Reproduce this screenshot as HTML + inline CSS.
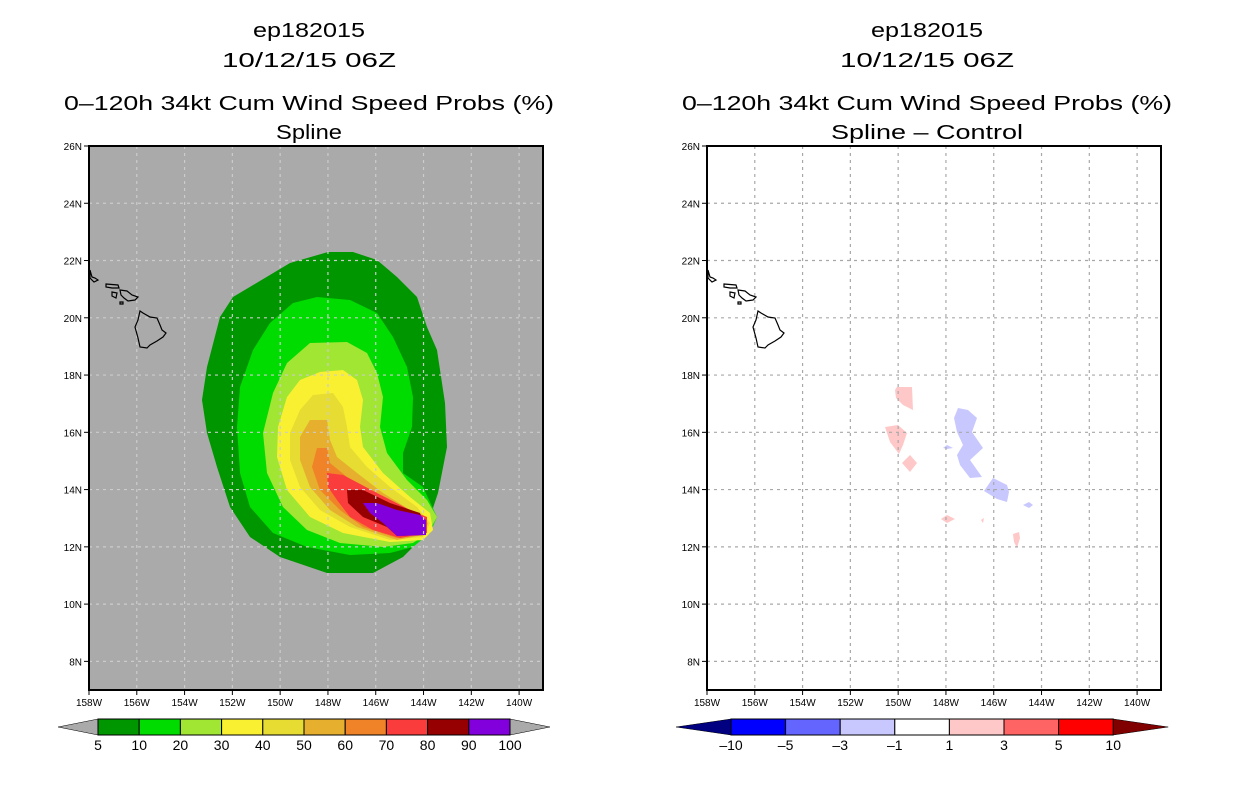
<!DOCTYPE html>
<html><head><meta charset="utf-8"><style>
body{margin:0;background:#fff;width:1236px;height:800px;overflow:hidden}
svg{display:block;font-family:"Liberation Sans",sans-serif}
</style></head><body>
<svg id="s" width="1236" height="800"></svg>
<script>
const lonTicks=[-158,-156,-154,-152,-150,-148,-146,-144,-142,-140];
const latTicks=[8,10,12,14,16,18,20,22,24,26];
const probLevels=["5","10","20","30","40","50","60","70","80","90","100"];
const probColors=["#009600","#00dc00","#a0e632","#faf032","#e6dc32","#e6af2d","#f08228","#fa3c3c","#960000","#8200dc"];
const diffLevels=["-10","-5","-3","-1","1","3","5","10"];
const diffColors=["#0000ff","#6464ff","#c8c8ff","#ffffff","#ffc8c8","#ff6464","#ff0000"];
const probPolysPx=[
[[328,252],[353,252],[377,260],[397,277],[417,297],[427,327],[437,350],[445,403],[447,447],[438,493],[430,517],[420,540],[403,557],[373,573],[327,573],[280,557],[250,537],[230,507],[217,467],[207,433],[202,400],[207,367],[220,317],[233,297],[290,263]],
[[317,297],[350,300],[377,313],[393,337],[407,367],[413,397],[412,427],[403,453],[403,473],[423,487],[437,517],[430,533],[413,547],[390,553],[350,555],[307,547],[273,533],[250,507],[240,473],[237,427],[240,387],[253,350],[270,323],[293,303]],
[[310,343],[347,342],[367,353],[377,373],[383,397],[380,427],[387,453],[407,480],[427,500],[437,517],[428,533],[413,543],[383,547],[340,543],[307,530],[283,507],[267,473],[263,433],[273,393],[287,363]],
[[320,372],[343,370],[357,380],[363,400],[360,427],[363,447],[383,473],[410,497],[430,513],[433,530],[423,540],[390,542],[343,533],[310,517],[287,490],[277,457],[278,427],[287,397],[300,380]],
[[313,395],[333,393],[343,407],[347,427],[350,447],[367,467],[390,487],[417,507],[430,523],[423,537],[390,540],[350,527],[320,510],[300,487],[290,460],[290,433],[300,410]],
[[310,420],[327,420],[330,440],[337,457],[357,473],[383,493],[410,510],[428,523],[423,535],[397,540],[357,527],[330,510],[310,487],[300,460],[300,437]],
[[317,448],[327,448],[330,463],[347,477],[377,493],[407,510],[427,520],[423,535],[397,538],[363,527],[340,510],[320,490],[312,467]],
[[327,473],[343,475],[377,493],[410,510],[427,517],[427,533],[400,538],[373,530],[350,517],[337,500],[328,487]],
[[347,490],[363,490],[390,503],[420,513],[425,527],[423,535],[397,536],[387,527],[363,517],[348,503]],
[[363,503],[377,503],[397,510],[420,515],[426,520],[426,535],[397,536],[383,523],[370,513]]];
const diffPolysPx=[
["#ffc8c8",[[897,387],[912,387],[913,410],[903,405],[896,398],[895,390]]],
["#ffc8c8",[[885,427],[898,425],[907,433],[903,445],[899,454],[890,442]]],
["#ffc8c8",[[910,455],[917,463],[910,472],[902,463]]],
["#ffc8c8",[[941,519],[947,515],[955,519],[947,523]]],
["#ffc8c8",[[981,520],[984,518],[983,523]]],
["#ffc8c8",[[1013,534],[1019,532],[1020,538],[1017,548],[1014,542]]],
["#c8c8ff",[[958,408],[968,410],[977,418],[972,432],[983,448],[970,460],[982,477],[970,478],[960,465],[957,455],[963,445],[957,432],[954,418]]],
["#c8c8ff",[[943,448],[947,445],[953,448],[947,449]]],
["#c8c8ff",[[993,478],[1007,485],[1009,492],[1007,502],[997,499],[984,491]]],
["#c8c8ff",[[1023,505],[1029,502],[1033,505],[1029,508]]]];
const islandsPx=[
[[140,311],[143,313],[150,317],[157,318],[160,325],[162,330],[166,333],[163,337],[157,341],[150,345],[147,348],[140,347],[138,338],[135,327],[138,320]],
[[120,290],[127,291],[132,295],[138,297],[135,300],[128,301],[124,298],[121,295]],
[[106,284],[118,285],[119,288],[112,288],[106,287]],
[[112,292],[117,293],[116,298],[112,296]],
[[120,302],[123,302],[123,304],[120,304]],
[[90,270],[92,277],[95,278],[98,280],[94,282],[90,278]]];

const NS="http://www.w3.org/2000/svg";
const svg=document.getElementById('s');
function el(t,a,p){const e=document.createElementNS(NS,t);for(const k in a)e.setAttribute(k,a[k]);(p||svg).appendChild(e);return e;}
const LON0=-158.0,LON1=-139.0,LAT0=7.0,LAT1=26.0,W=454,H=544,TOP=146;
function px2ll(p,ox){return [LON0+(p[0]-ox)/W*(LON1-LON0), LAT1-(p[1]-TOP)/H*(LAT1-LAT0)];}
function xs(lon,ox){return ox+(lon-LON0)/(LON1-LON0)*W;}
function ys(lat){return TOP+(LAT1-lat)/(LAT1-LAT0)*H;}
const probPolys=probPolysPx.map(p=>p.map(q=>px2ll(q,89)));
const diffPolys=diffPolysPx.map(d=>[d[0],d[1].map(q=>px2ll(q,707))]);
const islands=islandsPx.map(p=>p.map(q=>px2ll(q,89)));
function pts(poly,ox){return poly.map(q=>xs(q[0],ox).toFixed(1)+','+ys(q[1]).toFixed(1)).join(' ');}

function text(x,y,s,size,name,anchor,len){const a={x:x,y:y,'font-size':size,'text-anchor':anchor||'middle','fill':'#000'};if(len){a.textLength=len;a.lengthAdjust='spacingAndGlyphs';}const t=el('text',a);t.textContent=s;return t;}

function panel(ox,cx,sub,subLen,bg,gridCol,isLeft){
  const g=el('g',{});
  
  
  text(cx,37,'ep182015',20,'title-storm-id','middle',112);
  text(cx,67,'10/12/15 06Z',20,'title-date','middle',174);
  text(cx,110,'0\u2013120h 34kt Cum Wind Speed Probs (%)',20,'title-product','middle',490);
  text(cx,139,sub,20,'subtitle','middle',subLen);
  el('rect',{x:ox,y:TOP,width:W,height:H,fill:bg},g);
  if(isLeft){probPolys.forEach((p,i)=>{const e=el('polygon',{points:pts(p,ox),fill:probColors[i]},g);});}
  else{diffPolys.forEach(d=>{const e=el('polygon',{points:pts(d[1],ox),fill:d[0]},g);});}
  lonTicks.slice(1).forEach(l=>{const x=xs(l,ox);const e=el('line',{x1:x,x2:x,y1:TOP,y2:TOP+H,stroke:gridCol,'stroke-width':1.2,'stroke-dasharray':'3,4'},g);});
  latTicks.slice(0,-1).forEach(l=>{const y=ys(l);const e=el('line',{x1:ox,x2:ox+W,y1:y,y2:y,stroke:gridCol,'stroke-width':1.2,'stroke-dasharray':'3,4'},g);});
  islands.forEach(p=>{const e=el('polygon',{points:pts(p,ox),fill:'none',stroke:'#000','stroke-width':1.2},g);});
  el('rect',{x:ox,y:TOP,width:W,height:H,fill:'none',stroke:'#000','stroke-width':2},g);
  lonTicks.forEach(l=>{const x=xs(l,ox);el('line',{x1:x,x2:x,y1:TOP+H,y2:TOP+H+5,stroke:'#000'},g);text(x,TOP+H+16,Math.abs(l)+'W',10,'x-tick-label');});
  latTicks.forEach(l=>{const y=ys(l);el('line',{x1:ox-5,x2:ox,y1:y,y2:y,stroke:'#000'},g);text(ox-7,y+4,l+'N',10,'y-tick-label','end');});
}
panel(89,309,'Spline',66,'#aaaaaa','#cccccc',true);
panel(707,927,'Spline \u2013 Control',192,'#ffffff','#a8a8a8',false);

function colorbar(x0,bw,colors,labels,lc,rc,tip,name){
  const g=el('g',{});
  const y0=719,y1=735,ym=727,n=colors.length,x1=x0+bw*n;
  el('polygon',{points:`${x0-tip},${ym} ${x0},${y0} ${x0},${y1}`,fill:lc,stroke:'#000','stroke-width':0.5},g);
  el('polygon',{points:`${x1+tip},${ym} ${x1},${y0} ${x1},${y1}`,fill:rc,stroke:'#000','stroke-width':0.5},g);
  colors.forEach((c,i)=>{const r=el('rect',{x:x0+i*bw,y:y0,width:bw,height:y1-y0,fill:c,stroke:'#000','stroke-width':1},g);});
  labels.forEach((s,i)=>text(x0+i*bw,750,s.replace('-','\u2013'),14,'colorbar-label'));
}
colorbar(98,41.2,probColors,probLevels,'#aaaaaa','#aaaaaa',40,'prob-colorbar');
colorbar(731,54.6,diffColors,diffLevels,'#000080','#800000',55,'diff-colorbar');
</script>
</body></html>
